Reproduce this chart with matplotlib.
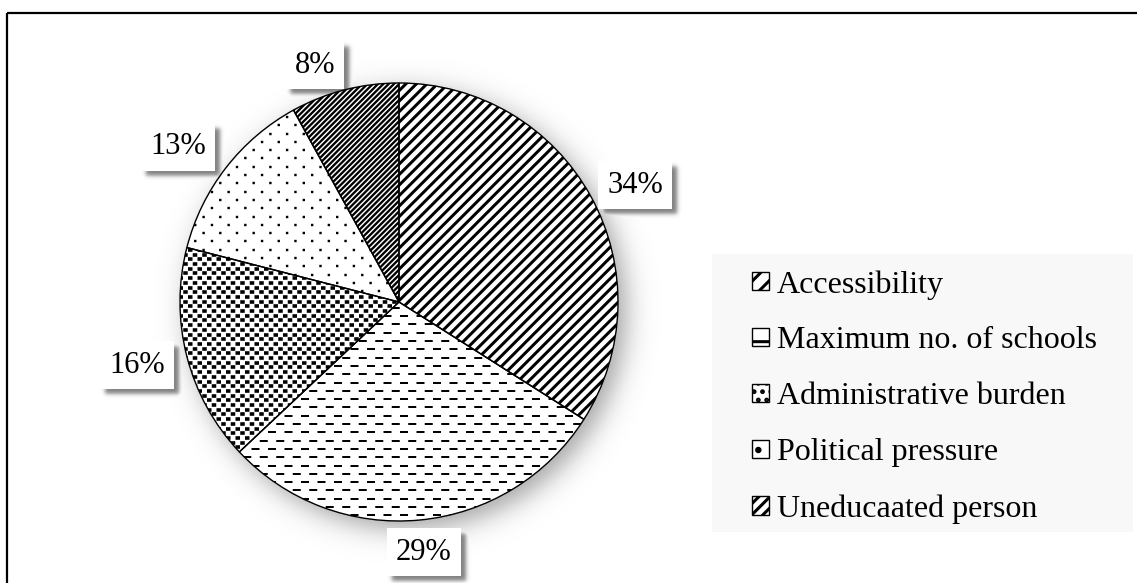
import numpy as np
import matplotlib
matplotlib.use("Agg")
import matplotlib.pyplot as plt
from matplotlib.collections import LineCollection
from matplotlib.patches import Patch, Rectangle

plt.rcParams["font.family"] = ["Liberation Serif", "DejaVu Serif"]
plt.rcParams["lines.scale_dashes"] = False
plt.rcParams["hatch.linewidth"] = 2.2

# ---- data -------------------------------------------------------------
categories = ["Accessibility", "Maximum no. of schools", "Administrative burden",
              "Political pressure", "Uneducaated person"]
shares = [34, 29, 16, 13, 8]

# ---- layout (pixels) --------------------------------------------------
W, H = 1137, 583
CX, CY, R = 399, 302, 219            # pie centre and radius
LABEL_XY = [(1.078, 0.534), (0.114, -1.142), (-1.196, -0.288),
            (-1.009, 0.708), (-0.384, 1.082)]   # label centres, pie units
LIM = 1.1

fig = plt.figure(figsize=(W / 100, H / 100), dpi=100)
fig.patch.set_facecolor("white")

# background layer in pixel coordinates
bg = fig.add_axes([0, 0, 1, 1], zorder=0)
bg.set_xlim(0, W)
bg.set_ylim(H, 0)
bg.axis("off")
bg.add_patch(Rectangle((7, 13), W + 20, H + 20, fill=False, ec="black", lw=1.6))
bg.add_patch(Rectangle((712, 254), 421, 278, fc="#f8f8f8", ec="none"))

# pie axes, square, centred on the pie
S = 2 * LIM * R
ax = fig.add_axes([(CX - S / 2) / W, (H - CY - S / 2) / H, S / W, S / H], zorder=1)
ax.patch.set_alpha(0)

# white base below the textures
ax.pie(shares, startangle=90, counterclock=False, radius=1,
       colors=["white"] * len(shares), wedgeprops=dict(linewidth=0, zorder=2))
wedges, _ = ax.pie(shares, startangle=90, counterclock=False, radius=1,
                   colors=["white"] * len(shares),
                   wedgeprops=dict(edgecolor="black", linewidth=1.0))
ax.set_xlim(-LIM, LIM)
ax.set_ylim(-LIM, LIM)
ax.set_aspect("equal")
ax.axis("off")

px = 1.0 / R          # one pixel in pie units
PT = 0.72             # points per pixel at 100 dpi


def diagonal(wedge, step, lw):
    cs = np.arange(-2.2, 2.2, step * px)
    segs = [[(-1.1, -1.1 + c), (1.1, 1.1 + c)] for c in cs]
    lc = LineCollection(segs, colors="black", linewidths=lw * PT, zorder=3)
    ax.add_collection(lc)
    lc.set_clip_path(wedge)


def dashed_rows(wedge, row_step, on, off, lw):
    ys = np.arange(-1.05, 1.05, row_step * px)
    segs = [[(-1.05, y), (1.05, y)] for y in ys]
    styles = [((0 if i % 2 == 0 else (on + off) / 2) * PT, (on * PT, off * PT))
              for i in range(len(ys))]
    lc = LineCollection(segs, colors="black", linewidths=lw * PT,
                        linestyles=styles, capstyle="butt", zorder=3)
    ax.add_collection(lc)
    lc.set_clip_path(wedge)


diagonal(wedges[0], 10.5, 3.0)                 # Accessibility
dashed_rows(wedges[1], 8.3, 8.0, 8.5, 2.0)     # Maximum no. of schools
dashed_rows(wedges[2], 4.7, 4.5, 5.0, 3.6)     # Administrative burden
dashed_rows(wedges[3], 8.3, 2.4, 14.3, 2.4)    # Political pressure
diagonal(wedges[4], 5.3, 2.3)                 # Uneducated person
for w in wedges:
    w.set_zorder(4)
    w.set_facecolor("none")

labels = []
for (lx, ly), v in zip(LABEL_XY, shares):
    t = ax.text(lx, ly, f"{v}%", ha="center", va="center", fontsize=22,
                color="black", zorder=6,
                bbox=dict(boxstyle="square,pad=0.3", fc="white", ec="none"))
    labels.append(t)

# legend
handles = [Patch(fc="white", ec="black", lw=1.0, hatch=h)
           for h in ["//", "-", "..", ".", "///"]]
fig.legend(handles, categories, loc="upper left",
           bbox_to_anchor=(752 / W, 1 - 270 / H), frameon=False,
           borderpad=0, borderaxespad=0, handlelength=0.52, handleheight=0.52,
           handletextpad=0.25, labelspacing=0.845, fontsize=23)

# soft shadows under the pie and the label boxes
fig.canvas.draw()
renderer = fig.canvas.get_renderer()
yy, xx = np.mgrid[0:H, 0:W] + 0.5
d = np.hypot(xx - (CX + 8), yy - (CY + 8))
alpha = 0.36 * 0.5 * (1 - np.tanh((d - R) / 16))
for t in labels:
    bb = t.get_bbox_patch().get_window_extent(renderer)
    x0, x1 = bb.x0 + 5, bb.x1 + 5
    y0, y1 = H - bb.y1 + 5, H - bb.y0 + 5
    s = 2.5
    a = 0.5 * (np.tanh((xx - x0) / s) - np.tanh((xx - x1) / s)) * \
        0.5 * (np.tanh((yy - y0) / s) - np.tanh((yy - y1) / s))
    alpha = np.maximum(alpha, 0.5 * a)
rgba = np.zeros((H, W, 4))
rgba[..., 3] = np.clip(alpha, 0, 1)
bg.imshow(rgba, extent=(0, W, H, 0), aspect="auto", zorder=1, interpolation="bilinear")

fig.savefig("out.png", dpi=100)
